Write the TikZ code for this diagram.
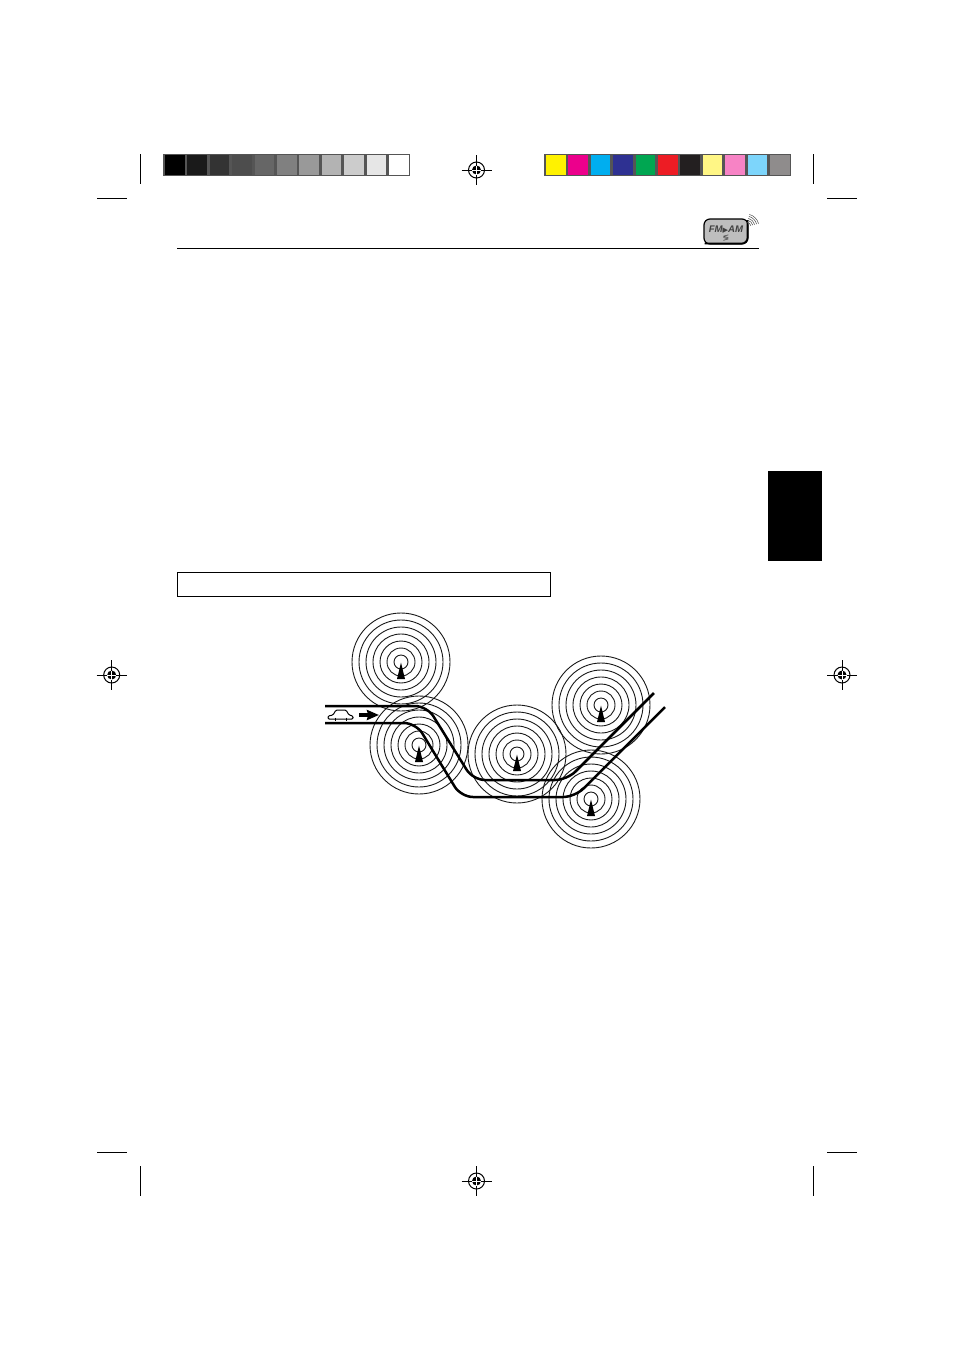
\documentclass[tikz,border=0pt]{standalone}
\usepackage{fontspec}
\setmainfont{Liberation Sans}
\newfontfamily\symfont{DejaVu Sans}
\usetikzlibrary{arrows.meta,positioning}
\definecolor{BarGray}{HTML}{555555}
\definecolor{IconGray}{HTML}{BEBEBE}
\begin{document}
\begin{tikzpicture}[x=0.5pt,y=-0.5pt,
 trim/.style={line width=0.5pt,draw=black},
 swatch/.style={minimum width=9.8pt,minimum height=9.6pt,inner sep=0pt,outer sep=0pt,draw=none},
 ring/.style={line width=0.45pt,draw=black!90},
 road/.style={line width=1.25pt,draw=black,rounded corners=6pt},
 regmark/.pic={
  \draw[line width=0.5pt] (-15,0) -- (15,0) (0,-15) -- (0,15);
  \draw[line width=0.5pt] (0,0) circle[radius=8];
  \fill (0,0) circle[radius=4.5];
  \draw[white,line width=0.4pt] (-4.5,0) -- (4.5,0) (0,-4.5) -- (0,4.5);
 },
 station/.pic={
  \foreach \r in {7,14,21,28,35,42,49} \draw[ring] (0,0) circle[radius=\r];
  \fill (0,0.5) -- (4,17) -- (-4,17) -- cycle;
 }]
\useasboundingbox (0,0) rectangle (954,1350);
\fill[BarGray] (163,154) rectangle (410,176);
\fill[BarGray] (544,154) rectangle (791,176);
\foreach \x/\c in {0/000000,1/1A1A1A,2/333333,3/4D4D4D,4/666666,5/808080,6/999999,7/B3B3B3,8/CCCCCC,9/E6E6E6,10/FFFFFF} {
 \definecolor{SwatchFill}{HTML}{\c}
 \node[swatch,fill=SwatchFill] at (174.7+22.4*\x,165) {};
}
\foreach \x/\c in {0/FFF200,1/EC008C,2/00AEEF,3/2E3192,4/00A651,5/ED1C24,6/231F20,7/FFF685,8/F783C5,9/7DD5FB,10/8F8C8C} {
 \definecolor{SwatchFill}{HTML}{\c}
 \node[swatch,fill=SwatchFill] at (555.7+22.4*\x,165) {};
}
\draw[trim] (140.5,154) -- (140.5,184) (813.5,154) -- (813.5,184);
\draw[trim] (97,198.5) -- (127,198.5) (827,198.5) -- (857,198.5);
\draw[trim] (97,1152) -- (127,1152) (827,1152) -- (857,1152);
\draw[trim] (140.5,1166) -- (140.5,1196) (813.5,1166) -- (813.5,1196);
\foreach \x/\y in {476.5/170,476.5/1181,111.7/675,842/675} \pic at (\x,\y) {regmark};
\draw[line width=0.5pt] (177,248.5) -- (759,248.5);
\draw[line width=0.6pt,fill=IconGray,rounded corners=3pt] (704,219) rectangle (748,244);
\draw[line width=0.8pt,rounded corners=3pt] (704.5,243.5) -- (747.5,243.5) -- (747.5,220);
\node[font=\bfseries\itshape\fontsize{4.8pt}{5pt}\selectfont,inner sep=0pt,text=black!75] (band) at (726,230) {FM{\symfont\fontsize{3.6pt}{4pt}\selectfont\upshape ▶}AM};
\node[font=\symfont\fontsize{4pt}{4pt}\selectfont,inner sep=0pt,below=0.4pt of band,text=black!75] (signal) {≶};
\foreach \r in {5,7,9,11,13} \draw[line width=0.25pt,black!70] (746,227) ++(-75:\r) arc[start angle=-75,end angle=-15,radius=\r];
\fill[black] (768,471) rectangle (822,561);
\draw[line width=0.5pt] (177.5,572.5) rectangle (550.5,596.5);
\foreach \x/\y in {401/662,419/745,517/754,601/705,591/799} \pic at (\x,\y) {station};
\draw[road] (325,706) -- (427,706) -- (473,780) -- (567,780) -- (654,693);
\draw[road] (325,723) -- (416,723) -- (461,797) -- (575,797) -- (665,707);
\draw[line width=0.5pt,rounded corners=0.6pt] (328,719) -- (328,716) -- (333,715) -- (336,710) -- (346,710) -- (349,715) -- (353,716) -- (353,719) -- cycle;
\draw[line width=0.5pt] (335,717.5) -- (335,720.5) (346,717.5) -- (346,720.5);
\draw[-{Stealth[length=6pt,width=5pt,inset=0.6pt]},line width=1.8pt] (359,715) -- (379,715);
\end{tikzpicture}
\end{document}
